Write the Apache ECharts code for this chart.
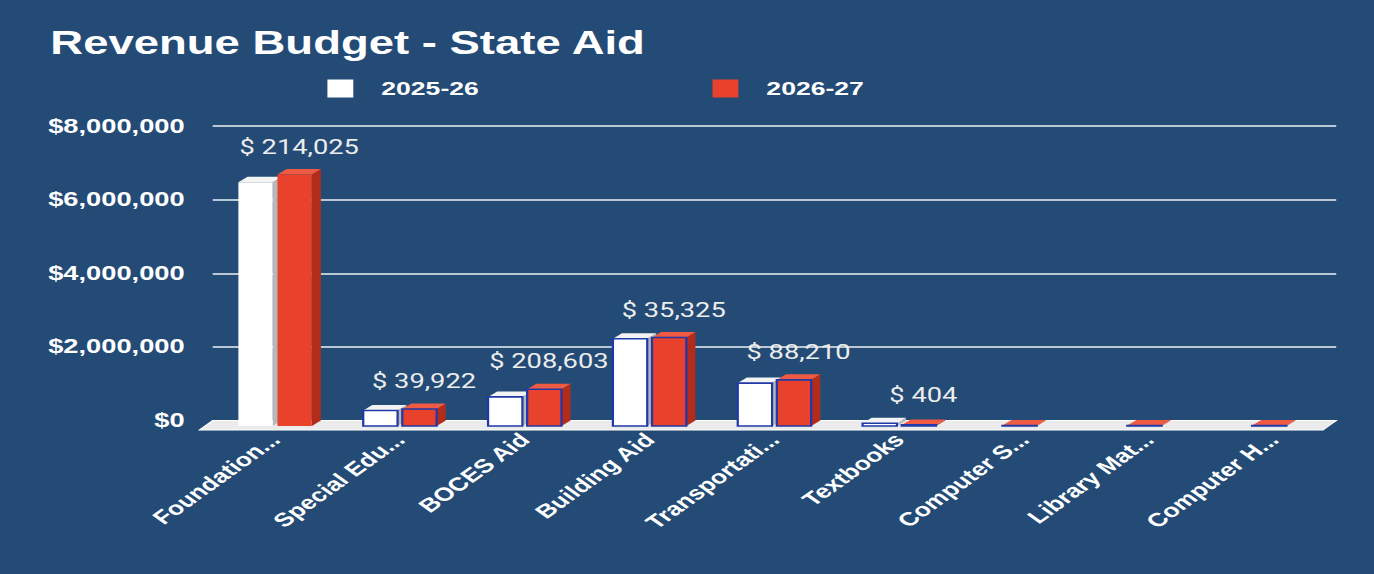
<!DOCTYPE html>
<html><head><meta charset="utf-8">
<script src="https://cdn.jsdelivr.net/npm/echarts@6/dist/echarts.min.js"></script>
<style>
html,body{margin:0;padding:0;width:1374px;height:574px;overflow:hidden;background:#234b76;}
#chart{position:absolute;left:0;top:0;width:982px;height:574px;transform:scaleX(1.3992);transform-origin:0 0;}
</style></head><body><div id="chart"></div>
<script>
// ---- data ----
const categories = ['Foundation...', 'Special Edu...', 'BOCES Aid', 'Building Aid', 'Transportati...', 'Textbooks', 'Computer S...', 'Library Mat...', 'Computer H...'];
const fy2526 = [6620000, 420000, 790000, 2370000, 1165000, 75000, null, null, null];
const fy2627 = [6834025, 459922, 998603, 2405325, 1253210, 30000, 15000, 15000, 15000];
const changeLabels = ['$ 214,025', '$ 39,922', '$ 208,603', '$ 35,325', '$ 88,210', '$ 404', '', '', ''];
const yTickLabels = ['$0', '$2,000,000', '$4,000,000', '$6,000,000', '$8,000,000'];
const seriesNames = ['2025-26', '2026-27'];
const titleText = 'Revenue Budget - State Aid';

// ---- drawing ----
const DX = 6.5, DY = 5.5;      // pseudo-3D depth of bars
const FX = 9.5, FY = 9.5;      // depth of floor
const palettes = [
  { front: '#ffffff', top: '#f3f3f3', side: '#b8b8b8' },
  { front: '#e8412c', top: '#ef5a43', side: '#b22c1b' }
];

function makeRender(s) {
  return function (params, api) {
    const i = api.value(0), v = api.value(1);
    if (v == null || isNaN(v)) return;
    const base = api.coord([i, 0]);
    const top = api.coord([i, v]);
    const band = api.size([1, 0])[0];
    const bw = band * 0.275, pitch = band * 0.313;
    const pair = fy2526[i] != null && fy2627[i] != null;
    const x0 = pair ? base[0] - (pitch + bw) / 2 + s * pitch : base[0] - bw / 2 - DX / 2;
    const yT = top[1] + DY, yB = base[1] + DY;
    const pal = palettes[s];
    const outline = i !== 0; // first pair in the reference has no blue outline
    const children = [
      { type: 'polygon', shape: { points: [[x0 + bw, yT], [x0 + bw + DX, yT - DY], [x0 + bw + DX, yB - DY], [x0 + bw, yB]] }, style: { fill: pal.side } },
      { type: 'polygon', shape: { points: [[x0, yT], [x0 + DX, yT - DY], [x0 + bw + DX, yT - DY], [x0 + bw, yT]] }, style: { fill: pal.top } },
      { type: 'rect', shape: { x: x0, y: yT, width: bw, height: Math.max(yB - yT, 0.5) },
        style: { fill: pal.front, stroke: outline ? '#2038a8' : null, lineWidth: outline ? 1.6 : 0 } }
    ];
    if (s === 1 && changeLabels[i]) {
      const hi = Math.max(fy2526[i] || 0, fy2627[i] || 0);
      const ty = api.coord([i, hi])[1];
      children.push({ type: 'text', x: x0 + bw / 2 + DX / 2, y: ty - 22,
        style: { text: changeLabels[i], fill: '#ededed', font: '19.5px Roboto', align: 'center', verticalAlign: 'middle' } });
    }
    return { type: 'group', children };
  };
}

function renderFloor(params, api) {
  const cs = params.coordSys;
  const yb = cs.y + cs.height;
  return { type: 'polygon',
    shape: { points: [[cs.x, yb], [cs.x + cs.width, yb], [cs.x + cs.width - FX, yb + FY], [cs.x - FX, yb + FY]] },
    style: { fill: '#ebebeb', stroke: '#ffffff', lineWidth: 1 } };
}

const chart = echarts.init(document.getElementById('chart'), null, { renderer: 'svg' });
const ff = '"Liberation Sans", Arial, sans-serif';
chart.setOption({
  animation: false,
  backgroundColor: '#234b76',
  title: { text: titleText, left: 31, top: 21, textStyle: { color: '#ffffff', fontSize: 32.5, fontWeight: 'bold', fontFamily: ff } },
  legend: {
    data: seriesNames, left: 229, top: 74, icon: 'rect', itemWidth: 18.5, itemHeight: 18, itemGap: 167,
    textStyle: { color: '#ffffff', fontSize: 19, fontWeight: 'bold', fontFamily: ff, padding: [0, 0, 0, 15] }
  },
  grid: { left: 152, right: 27, top: 126, bottom: 153.5, containLabel: false },
  xAxis: {
    type: 'category', data: categories,
    axisLine: { show: false }, axisTick: { show: false },
    axisLabel: { interval: 0, rotate: 45, margin: 16, color: '#ffffff', fontSize: 19, fontWeight: 'bold', fontFamily: ff }
  },
  yAxis: {
    type: 'value', min: 0, max: 8000000, interval: 2000000,
    axisLine: { show: false }, axisTick: { show: false },
    splitLine: { lineStyle: { color: '#eef1f5', width: 1.6 } },
    axisLabel: { margin: 20, color: '#ffffff', fontSize: 19.5, fontWeight: 'bold', fontFamily: ff,
      formatter: v => yTickLabels[Math.round(v / 2000000)] }
  },
  series: [
    { type: 'custom', name: 'floor', renderItem: renderFloor, data: [[0, 0]], z: 1, silent: true },
    { type: 'custom', name: seriesNames[0], renderItem: makeRender(0), itemStyle: { color: '#ffffff' }, z: 2,
      data: fy2526.map((v, i) => [i, v]) },
    { type: 'custom', name: seriesNames[1], renderItem: makeRender(1), itemStyle: { color: '#e8412c' }, z: 3,
      data: fy2627.map((v, i) => [i, v]) }
  ]
});
</script></body></html>
